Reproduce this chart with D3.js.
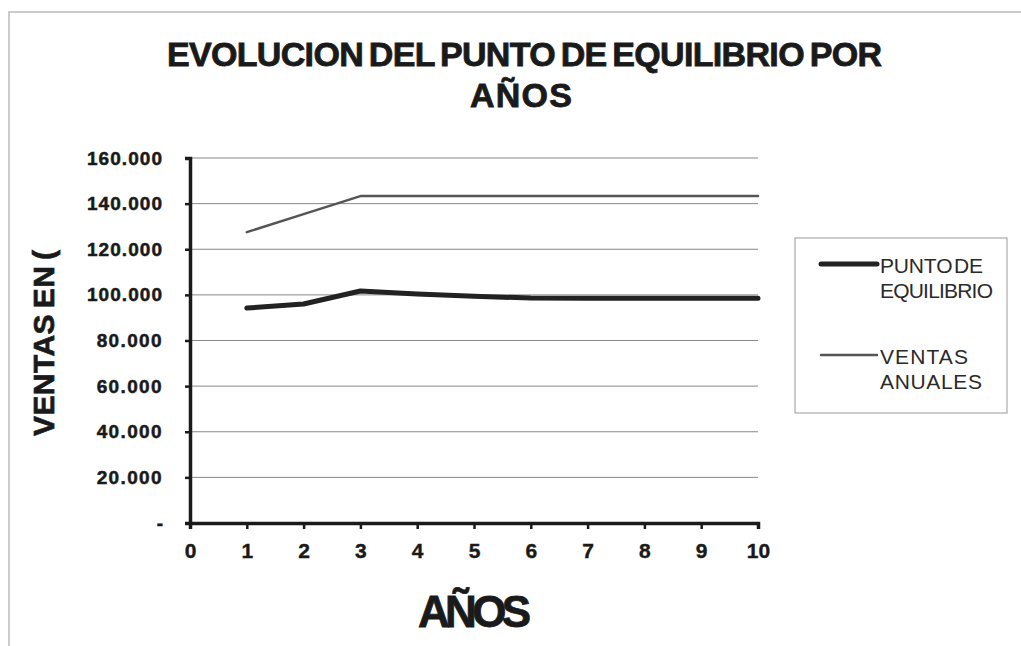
<!DOCTYPE html>
<html>
<head>
<meta charset="utf-8">
<script src="https://cdn.jsdelivr.net/npm/d3@7"></script>
<style>
  html, body { margin: 0; padding: 0; background: #fff; }
  svg text { font-family: "Liberation Sans", Arial, sans-serif; }
</style>
</head>
<body>
<svg id="chart" width="1021" height="646"></svg>
<script>
// Break-even point vs. annual sales, by year
const years = [1, 2, 3, 4, 5, 6, 7, 8, 9, 10];
const puntoEquilibrio = [94200, 96000, 101700, 100400, 99400, 98600, 98500, 98500, 98500, 98500];
const ventasAnuales = [127500, 135400, 143300, 143300, 143300, 143300, 143300, 143300, 143300, 143300];
const xTicks = [0, 1, 2, 3, 4, 5, 6, 7, 8, 9, 10];
const yTicks = [0, 20000, 40000, 60000, 80000, 100000, 120000, 140000, 160000];
const legendItems = [
  { lines: ["PUNTO DE", "EQUILIBRIO"], widths: [103, 113], key: "punto" },
  { lines: ["VENTAS", "ANUALES"], widths: [88, 102], key: "ventas" }
];
const styles = {
  punto: { color: "#222", width: 5 },
  ventas: { color: "#555", width: 2.5 }
};

const ink = "#1a1a1a";
const svg = d3.select("#chart");

// tighten or loosen letter spacing so a text runs to the given width
function fitWidth(sel, target) {
  sel.attr("letter-spacing", 0);
  const node = sel.node();
  const w = node.getComputedTextLength();
  const n = node.textContent.length;
  sel.attr("letter-spacing", (target - w) / Math.max(1, n - 1));
  return sel;
}

// outer chart frame
svg.append("rect")
  .attr("x", 9).attr("y", 12).attr("width", 1030).attr("height", 660)
  .attr("fill", "none").attr("stroke", "#bbb").attr("stroke-width", 1.5);

const margin = { left: 190, right: 758, top: 158, bottom: 523 };

const x = d3.scaleLinear().domain([0, 10]).range([margin.left, margin.right]);
const y = d3.scaleLinear().domain([0, 160000]).range([margin.bottom, margin.top]);

// title, two lines, heavy with narrow word gaps
const t1 = svg.append("text")
  .attr("x", 167).attr("y", 66)
  .attr("font-weight", "bold").attr("font-size", 34)
  .attr("word-spacing", -3)
  .attr("fill", ink).attr("stroke", ink).attr("stroke-width", 0.8)
  .text("EVOLUCION DEL PUNTO DE EQUILIBRIO POR");
fitWidth(t1, 715);
const t2 = svg.append("text")
  .attr("x", 470).attr("y", 107)
  .attr("font-weight", "bold").attr("font-size", 34)
  .attr("fill", ink).attr("stroke", ink).attr("stroke-width", 0.8)
  .text("AÑOS");
fitWidth(t2, 102);

// horizontal gridlines
svg.append("g")
  .selectAll("line")
  .data(yTicks.filter(d => d > 0))
  .join("line")
  .attr("x1", margin.left).attr("x2", margin.right)
  .attr("y1", d => y(d)).attr("y2", d => y(d))
  .attr("stroke", "#888").attr("stroke-width", 1);

// value formatter: thousands with a dot, zero shown as a dash
const fmtY = d => d === 0 ? "-" : d3.format(",")(d).replace(/,/g, ".");

// y axis
const yAxis = svg.append("g")
  .attr("transform", `translate(${margin.left},0)`)
  .call(d3.axisLeft(y).tickValues(yTicks).tickSize(5).tickPadding(22).tickFormat(fmtY));
yAxis.select(".domain").attr("stroke", ink).attr("stroke-width", 3.5);
yAxis.selectAll(".tick line").attr("stroke", ink).attr("stroke-width", 2.5);
yAxis.selectAll(".tick text")
  .attr("font-size", 19).attr("font-weight", "bold")
  .attr("fill", ink).attr("stroke", ink).attr("stroke-width", 0.5)
  .attr("font-family", "'Liberation Sans', Arial, sans-serif")
  .each(function (d) {
    if (d !== 0) fitWidth(d3.select(this), d >= 100000 ? 75 : 65);
  });

// x axis
const xAxis = svg.append("g")
  .attr("transform", `translate(0,${margin.bottom})`)
  .call(d3.axisBottom(x).tickValues(xTicks).tickSize(6).tickPadding(14).tickFormat(d3.format("d")));
xAxis.select(".domain").attr("stroke", ink).attr("stroke-width", 3.5);
xAxis.selectAll(".tick line").attr("stroke", ink).attr("stroke-width", 2.5);
xAxis.selectAll(".tick text")
  .attr("font-size", 21).attr("font-weight", "bold")
  .attr("fill", ink).attr("stroke", ink).attr("stroke-width", 0.4)
  .attr("font-family", "'Liberation Sans', Arial, sans-serif");

// axis titles
const yTitle = svg.append("text")
  .attr("transform", "translate(54,436) rotate(-90)")
  .attr("font-size", 30).attr("font-weight", "bold")
  .attr("word-spacing", -3)
  .attr("fill", ink).attr("stroke", ink).attr("stroke-width", 0.7)
  .text("VENTAS EN (");
fitWidth(yTitle, 186);

const xTitle = svg.append("text")
  .attr("x", 418).attr("y", 627)
  .attr("font-size", 44).attr("font-weight", "bold")
  .attr("fill", ink).attr("stroke", ink).attr("stroke-width", 0.8)
  .text("AÑOS");
fitWidth(xTitle, 113);

// series lines
const line = d3.line().x((d, i) => x(years[i])).y(d => y(d));
const series = { ventas: ventasAnuales, punto: puntoEquilibrio };
Object.entries(series).forEach(([k, vals]) => {
  svg.append("path")
    .datum(vals)
    .attr("d", line)
    .attr("fill", "none")
    .attr("stroke", styles[k].color)
    .attr("stroke-width", styles[k].width)
    .attr("stroke-linejoin", "round")
    .attr("stroke-linecap", "round");
});

// legend
const lg = svg.append("g");
lg.append("rect")
  .attr("x", 795).attr("y", 238).attr("width", 212).attr("height", 175)
  .attr("fill", "#fff").attr("stroke", "#999").attr("stroke-width", 1);
legendItems.forEach((it, i) => {
  const cy = 264 + i * 91;
  lg.append("line")
    .attr("x1", 821).attr("x2", 877).attr("y1", cy).attr("y2", cy)
    .attr("stroke", styles[it.key].color)
    .attr("stroke-width", styles[it.key].width)
    .attr("stroke-linecap", "round");
  it.lines.forEach((s, j) => {
    const lt = lg.append("text")
      .attr("x", 880).attr("y", cy + 9 + j * 25)
      .attr("font-size", 21)
      .attr("word-spacing", -4)
      .attr("fill", "#2a2a2a")
      .text(s);
    fitWidth(lt, it.widths[j]);
  });
});
</script>
</body>
</html>
